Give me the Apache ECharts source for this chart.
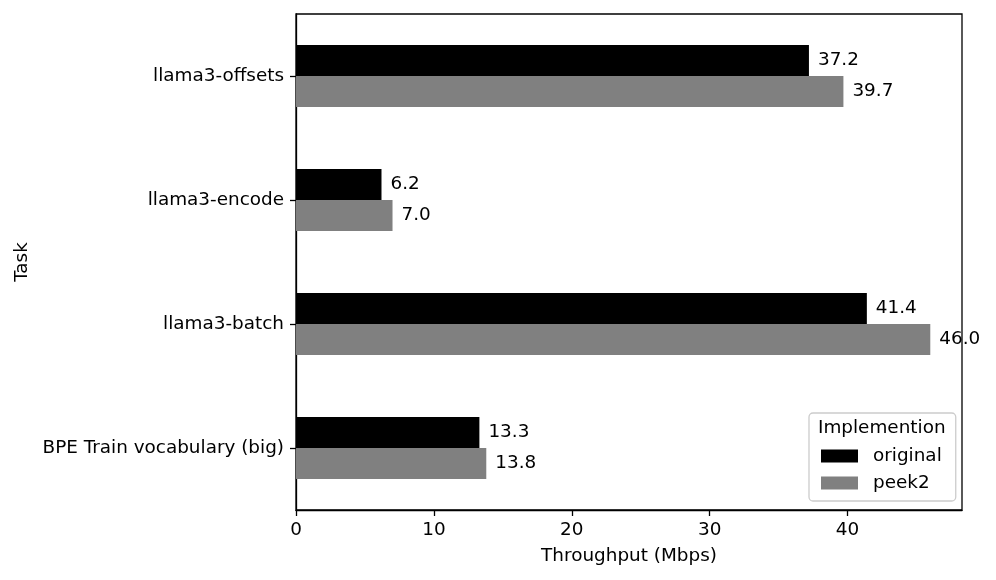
<!DOCTYPE html>
<html>
<head>
<meta charset="utf-8">
<script src="https://cdn.jsdelivr.net/npm/echarts@6/dist/echarts.min.js"></script>
<style>html,body{margin:0;padding:0;background:#fff}#c{width:996px;height:580px}</style>
</head>
<body>
<div id="c"></div>
<script>
const categories = ['BPE Train vocabulary (big)', 'llama3-batch', 'llama3-encode', 'llama3-offsets'];
const original = [13.3, 41.4, 6.2, 37.2];
const peek2 = [13.8, 46.0, 7.0, 39.7];
const xTicks = [0, 10, 20, 30, 40];
const seriesNames = ['original', 'peek2'];

const FONT = 'DejaVu Sans';
const FS = 18.4;
const chart = echarts.init(document.getElementById('c'));
const labelCfg = {
  show: true, position: 'right', distance: 9,
  color: '#000', fontFamily: FONT, fontSize: FS,
  formatter: p => p.value.toFixed(1)
};
chart.setOption({
  animation: false,
  textStyle: { fontFamily: FONT },
  grid: { left: 296, right: 34, top: 14, bottom: 70, show: true, borderColor: '#000', borderWidth: 1.3, containLabel: false },
  xAxis: {
    type: 'value', min: 0, max: 48.3, interval: 10,
    name: 'Throughput (Mbps)', nameLocation: 'middle', nameGap: 37,
    nameTextStyle: { color: '#000', fontSize: FS, fontFamily: FONT },
    axisLine: { show: true, lineStyle: { color: '#000', width: 1.3 } },
    axisTick: { show: true, length: 6, lineStyle: { color: '#000', width: 1.3 }, customValues: xTicks },
    axisLabel: { color: '#000', fontSize: FS, fontFamily: FONT, margin: 11, customValues: xTicks },
    splitLine: { show: false }
  },
  yAxis: {
    type: 'category', data: categories,
    name: 'Task', nameLocation: 'middle', nameGap: 265, nameRotate: 90,
    nameTextStyle: { color: '#000', fontSize: FS, fontFamily: FONT },
    axisLine: { show: true, lineStyle: { color: '#000', width: 1.3 } },
    axisTick: { show: true, alignWithLabel: true, length: 6, lineStyle: { color: '#000', width: 1.3 } },
    axisLabel: { color: '#000', fontSize: FS, fontFamily: FONT, margin: 12 },
    splitLine: { show: false }
  },
  legend: {
    data: seriesNames, orient: 'vertical', left: 809, top: 413,
    padding: [34, 14, 9, 12], itemWidth: 37, itemHeight: 13, itemGap: 9,
    backgroundColor: 'rgba(255,255,255,0.8)', borderColor: '#cccccc', borderWidth: 1.3, borderRadius: 4,
    icon: 'rect',
    textStyle: { color: '#000', fontSize: FS, fontFamily: FONT, padding: [0, 0, 0, 10] }
  },
  graphic: [{
    type: 'text', left: 881 - 63, top: 419, z: 100,
    style: { text: 'Implemention', fill: '#000', font: FS + 'px "DejaVu Sans"' }
  }],
  series: [
    { name: 'original', type: 'bar', data: original, itemStyle: { color: '#000000' }, barGap: '0%', barCategoryGap: '50%', label: labelCfg },
    { name: 'peek2', type: 'bar', data: peek2, itemStyle: { color: '#808080' }, barGap: '0%', barCategoryGap: '50%', label: labelCfg }
  ]
});
</script>
</body>
</html>
